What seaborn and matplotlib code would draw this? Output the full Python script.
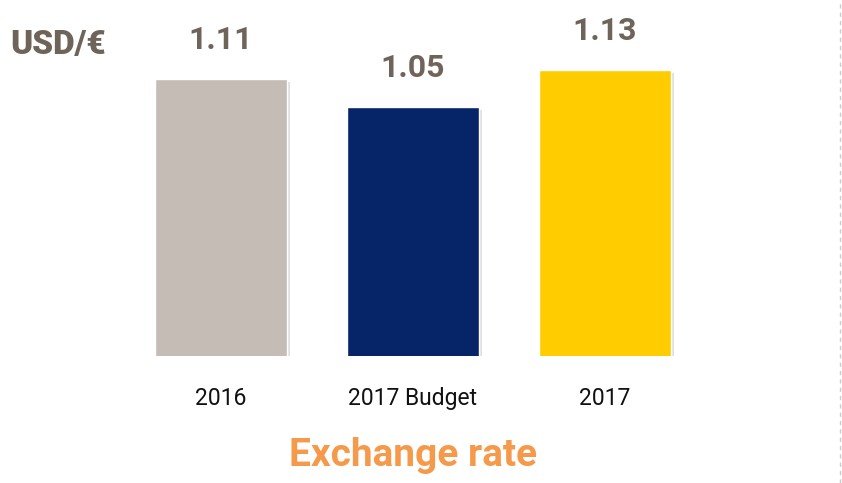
import matplotlib
matplotlib.use("Agg")
import matplotlib.pyplot as plt
import matplotlib.patheffects as pe
from matplotlib.lines import Line2D
import seaborn as sns
import pandas as pd

categories = ["2016", "2017 Budget", "2017"]
values = [1.11, 1.05, 1.13]
value_labels = ["1.11", "1.05", "1.13"]
colors = ["#c4bcb5", "#062468", "#ffcc00"]

sns.set_theme(style="white")
plt.rcParams['font.family'] = ['Roboto', 'DejaVu Sans']

df = pd.DataFrame({"cat": categories, "val": values})

fig = plt.figure(figsize=(8.42, 4.83), dpi=100)
ax = fig.add_axes([125/842, 1-356/483, 576/842, 356/483])
sns.barplot(data=df, x="cat", y="val", hue="cat", palette=colors, width=0.69,
            legend=False, ax=ax, saturation=1)
for p in ax.patches:
    p.set_path_effects([pe.SimplePatchShadow(offset=(2, -2), shadow_rgbFace="#000000", alpha=0.12),
                        pe.Normal()])
ax.set_ylim(0.512, 1.281)
ax.set_xlim(-0.5, 2.5)
ax.set_xlabel("")
ax.set_ylabel("")
ax.set_yticks([])
ax.tick_params(axis="x", length=0, pad=22, labelsize=16.5, labelcolor="#111111")
for s in ax.spines.values():
    s.set_visible(False)

for i, (v, lab) in enumerate(zip(values, value_labels)):
    ax.annotate(lab, (i, v), xytext=(0, 28), textcoords="offset points",
                ha="center", va="center", fontsize=23, fontweight="bold", color="#6f645a")

fig.text(10/842, 1-45/483, "USD/€", ha="left", va="center", fontsize=24,
         fontweight="black", color="#6f645a")
fig.text(413/842, 1-456/483, "Exchange rate", ha="center", va="center", fontsize=28,
         fontweight="bold", color="#f5994a")
fig.add_artist(Line2D([840/842, 840/842], [0, 1], transform=fig.transFigure,
                      color="#cccccc", lw=1, linestyle=(0, (3, 3))))

fig.savefig("out.png", dpi=100)
